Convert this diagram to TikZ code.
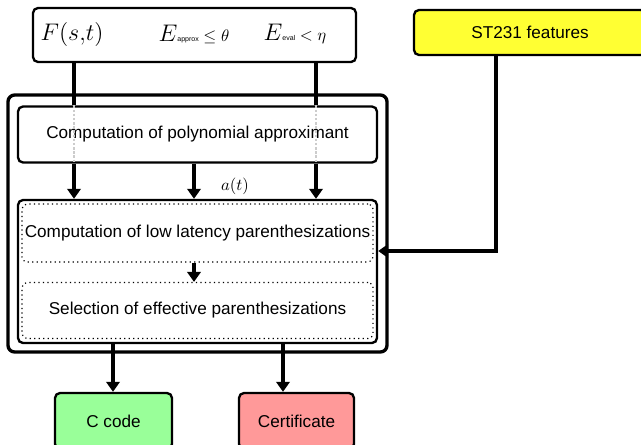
\documentclass[tikz,border=0pt]{standalone}
\usepackage{fontspec}
\setmainfont{Liberation Sans}
\usetikzlibrary{arrows.meta,positioning}
\definecolor{FeatYellow}{HTML}{FFFF33}
\definecolor{CodeGreen}{HTML}{99FF99}
\definecolor{CertRed}{HTML}{FF9999}

\tikzset{
  block/.style={draw,rounded corners=3pt,line width=1.4pt,fill=white,
                inner sep=0pt,align=center},
  frame/.style={draw,rounded corners=4pt,line width=2pt,fill=white},
  subblock/.style={draw,dotted,rounded corners=3pt,line width=0.7pt,
                   inner sep=0pt,align=center},
  conn/.style={line width=1.9pt,-{Triangle[width=8pt,length=6pt]}},
  wire/.style={line width=1.9pt},
  ghost/.style={line width=1.6pt,gray!40,dash pattern=on 1.5pt off 1pt}
}

\newcommand{\subtag}[1]{\mbox{\fontsize{4.2pt}{5pt}\selectfont #1}}

\begin{document}
\begin{tikzpicture}[x=0.6pt,y=-0.6pt,font=\fontsize{10.3pt}{12pt}\selectfont]
  \useasboundingbox (0,0) rectangle (641,444);
  \clip (0,0) rectangle (641,444);

  % inputs and features
  \node[block,minimum width=193.8pt,minimum height=32.4pt] (inputs) at (194.5,35) {};
  \node (Fst) at (72,34) {\fontsize{14pt}{16pt}\selectfont $F(s{,}t)$};
  \node (Eapprox) at (194,34) {{\fontsize{14pt}{16pt}\selectfont $E$}\subtag{approx}$\;\leq\theta$};
  \node (Eeval) at (295,34) {{\fontsize{14pt}{16pt}\selectfont $E$}\subtag{eval}$\;<\eta$};
  \node[block,fill=FeatYellow,minimum width=139.2pt,minimum height=27pt] (features) at (530,32.5) {ST231 features};

  % main processing frame
  \node[frame,minimum width=227.4pt,minimum height=154.2pt] (outer) at (197.5,223.5) {};
  \node[block,minimum width=215.4pt,minimum height=33.6pt] (approx) at (197.5,134.5)
    {Computation of polynomial approximant};
  \node[block,minimum width=215.4pt,minimum height=85.8pt] (inner) at (197.5,271.5) {};
  \node[subblock,minimum width=210.6pt,minimum height=34.8pt] (latency) at (197.5,233)
    {Computation of low latency parenthesizations};
  \node[subblock,minimum width=210.6pt,minimum height=33.6pt] (selection) at (197.5,310.5)
    {Selection of effective parenthesizations};
  \node (at) at (235,186) {$a(t)$};

  % outputs
  \node[block,fill=CodeGreen,minimum width=70.2pt,minimum height=33.6pt] (ccode) at (113.5,421) {C code};
  \node[block,fill=CertRed,minimum width=69pt,minimum height=33.6pt] (cert) at (296.5,421) {Certificate};

  % connector columns
  \coordinate (xa) at (74,0);
  \coordinate (xm) at (194,0);
  \coordinate (xb) at (316,0);
  \coordinate (xc) at (113,0);
  \coordinate (xd) at (283,0);
  \coordinate (turn) at (496,251);

  \foreach \col in {xa,xb} {
    \draw[wire] (inputs.south -| \col) -- (approx.north -| \col);
    \draw[ghost] (approx.north -| \col) -- (approx.south -| \col);
    \draw[conn] (approx.south -| \col) -- (inner.north -| \col);
  }
  \draw[conn] (approx.south -| xm) -- (inner.north -| xm);
  \draw[conn] (latency.south -| xm) -- (selection.north -| xm);
  \draw[conn] (features.south -| turn) |- (inner.east |- turn);
  \draw[conn] (inner.south -| xc) -- (ccode.north -| xc);
  \draw[conn] (inner.south -| xd) -- (cert.north -| xd);
\end{tikzpicture}
\end{document}
